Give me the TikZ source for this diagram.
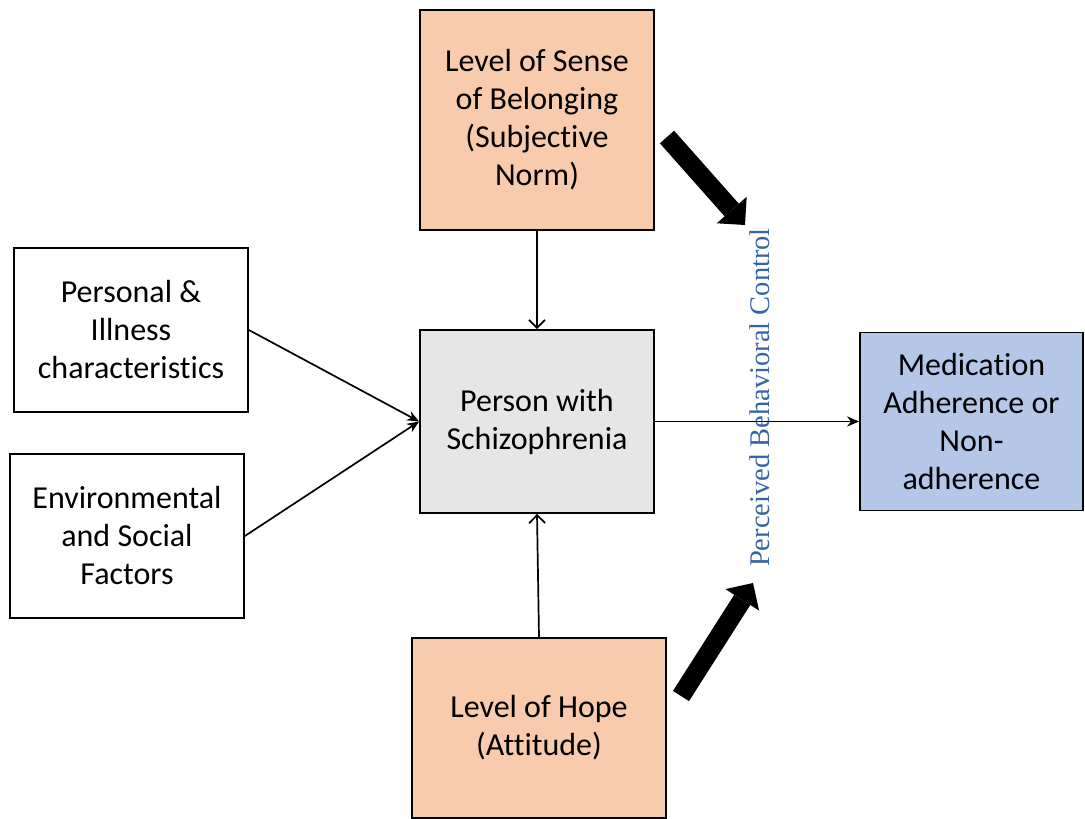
\documentclass[tikz,border=0pt]{standalone}
\usepackage{fontspec}
\setmainfont[Ligatures=NoCommon]{Carlito}
\newfontfamily\pbcfont{Liberation Serif}
\usetikzlibrary{arrows.meta}
\definecolor{peach}{RGB}{248,203,173}
\definecolor{lightgrey}{RGB}{230,230,230}
\definecolor{paleblue}{RGB}{180,199,231}
\definecolor{pbcblue}{RGB}{55,100,165}
\tikzset{box/.style={draw, line width=1.8pt, align=center, inner sep=0pt,
  font=\fontsize{32}{38}\selectfont}}
\tikzset{link/.style={line width=1.7pt, -{Stealth[length=12pt,width=10pt]}}}
\tikzset{openlink/.style={line width=1.7pt, -{Straight Barb[length=8pt,width=16pt,line width=1.7pt]}}}
\tikzset{bigarrow/.style={line width=19pt, -{Triangle[length=20pt,width=40pt,line width=0pt]}}}

\begin{document}
\begin{tikzpicture}[x=1pt, y=-1pt]
\useasboundingbox (0,0) rectangle (1085,819);

\node[box, fill=peach, minimum width=234pt, minimum height=220pt] (belong) at (537,120) {Level of Sense\\of Belonging\\(Subjective\\Norm)};
\node[box, minimum width=234pt, minimum height=164pt] (illness) at (131,330) {Personal \&\\Illness\\characteristics};
\node[box, minimum width=234pt, minimum height=164pt] (envsoc) at (127,536) {Environmental\\and Social\\Factors};
\node[box, fill=lightgrey, minimum width=234pt, minimum height=183pt] (schizo) at (537,421.5) {Person with\\Schizophrenia};
\node[box, fill=paleblue, minimum width=223pt, minimum height=178pt] (adher) at (971.5,421.5) {Medication\\Adherence or\\Non-\\adherence};
\node[box, fill=peach, minimum width=254pt, minimum height=180pt] (hope) at (539,728) {Level of Hope\\(Attitude)};

\node[rotate=90, anchor=base, text=pbcblue, font=\pbcfont\fontsize{28.5}{30}\selectfont] (pbc) at (769,397.5) {Perceived Behavioral Control};

\draw[openlink] (belong.south) -- (schizo.north);
\draw[openlink] (hope.north) -- (schizo.south);
\draw[link] (illness.east) -- (schizo.west);
\draw[link] (envsoc.east) -- (schizo.west);
\draw[link] (schizo.east) -- (adher.west);

\coordinate (normtail) at (667,137);
\coordinate (normtip) at (745,225);
\coordinate (hopetail) at (681,696);
\coordinate (hopetip) at (753,583);
\draw[bigarrow] (normtail) -- (normtip);
\draw[bigarrow] (hopetail) -- (hopetip);
\end{tikzpicture}
\end{document}
